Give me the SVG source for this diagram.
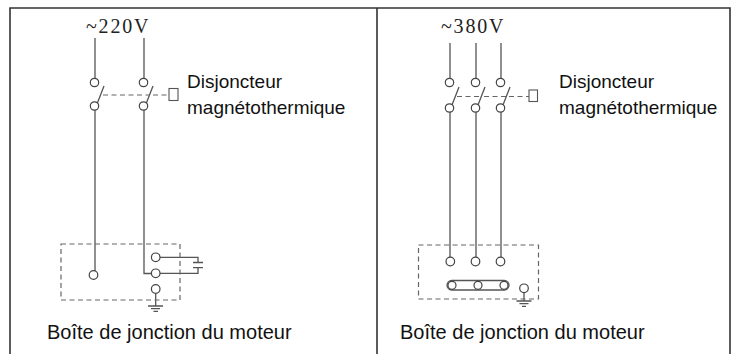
<svg xmlns="http://www.w3.org/2000/svg" width="740" height="354" viewBox="0 0 740 354">
<style>
.frame{stroke:#333;stroke-width:1.6;fill:none}
.w{stroke:#555;stroke-width:1.3;fill:none}
.c{stroke:#444;stroke-width:1.2;fill:#fff}
.d{stroke:#666;stroke-width:1.2;fill:none;stroke-dasharray:5,3.5}
.v{font-family:"Liberation Serif",serif;font-size:20px;letter-spacing:1.8px;fill:#222}
.t{font-family:"Liberation Sans",Arial,sans-serif;font-size:19px;fill:#111}
.b{font-family:"Liberation Sans",Arial,sans-serif;font-size:20px;fill:#111}
</style>
<g id="frame">
<path class="frame" d="M10,354 V8 H730 V354 M377,8 V354"/>
</g>
<g id="connectors">
<path class="w" d="M95,38 V78 M95,110 V271"/>
<path class="w" d="M144,38 V78 M144,110 V273.5 H151.5"/>
<path class="w" d="M97,104 L104,86 M146,104 L153,86"/>
<path class="d" d="M103,95 H150 M153,95 H169"/>
<path class="w" d="M160,257.3 H198 V262.5 M193,262.5 H203 M193,267.7 H203 M198,267.7 V273.3 H160"/>
<path class="w" d="M155.7,293.3 V306 M148,306 H163 M151,308.7 H160 M153.5,311.3 H158"/>
<path class="w" d="M450,43 V78 M450,112 V257 M476,43 V78 M476,112 V257 M501,43 V78 M501,112 V257"/>
<path class="w" d="M452,105 L459,87 M478,105 L485,87 M503,105 L510,87"/>
<path class="d" d="M457,96.5 H482 M484,96.5 H507 M509,96.5 H529"/>
<path class="w" d="M524,292.5 V301 M516.5,301 H531.5 M519.5,303.7 H528.5 M522,306.3 H526"/>
</g>
<g id="panel-220">
<text class="v" x="86" y="33">~220V</text>
<circle class="c" cx="94.5" cy="82.5" r="4.2"/>
<circle class="c" cx="94.5" cy="106" r="4.2"/>
<circle class="c" cx="143.5" cy="82.5" r="4.2"/>
<circle class="c" cx="143.5" cy="106" r="4.2"/>
<rect class="w" x="169" y="88.5" width="9" height="12" style="stroke-width:1.1"/>
<text class="t" x="187" y="88">Disjoncteur</text>
<text class="t" x="187" y="114">magnétothermique</text>
</g>
<g id="box-220">
<rect class="d" x="61" y="244" width="119" height="56"/>
<circle class="c" cx="93.5" cy="275" r="4.3"/>
<circle class="c" cx="155.7" cy="257.3" r="4.3"/>
<circle class="c" cx="155.7" cy="273.3" r="4.3"/>
<circle class="c" cx="155.7" cy="289" r="4.3"/>
<text class="b" x="47" y="339">Boîte de jonction du moteur</text>
</g>
<g id="panel-380">
<text class="v" x="441" y="33">~380V</text>
<circle class="c" cx="449.5" cy="82.5" r="4.2"/>
<circle class="c" cx="449.5" cy="108" r="4.2"/>
<circle class="c" cx="475.5" cy="82.5" r="4.2"/>
<circle class="c" cx="475.5" cy="108" r="4.2"/>
<circle class="c" cx="500.5" cy="82.5" r="4.2"/>
<circle class="c" cx="500.5" cy="108" r="4.2"/>
<rect class="w" x="529" y="90" width="8.5" height="11.5" style="stroke-width:1.1"/>
<text class="t" x="559" y="88">Disjoncteur</text>
<text class="t" x="559" y="114">magnétothermique</text>
</g>
<g id="box-380">
<rect class="d" x="418.5" y="245" width="120" height="54"/>
<circle class="c" cx="450.3" cy="261.5" r="4.3"/>
<circle class="c" cx="475.5" cy="261.5" r="4.3"/>
<circle class="c" cx="500.5" cy="261.5" r="4.3"/>
<rect class="w" x="447" y="280.5" width="62" height="9.5" rx="4.75" style="fill:#fff"/>
<circle class="c" cx="452" cy="285.3" r="4"/>
<circle class="c" cx="478" cy="285.3" r="4"/>
<circle class="c" cx="504" cy="285.3" r="4"/>
<circle class="c" cx="524" cy="288.3" r="4.3"/>
<text class="b" x="400" y="339">Boîte de jonction du moteur</text>
</g>
</svg>
